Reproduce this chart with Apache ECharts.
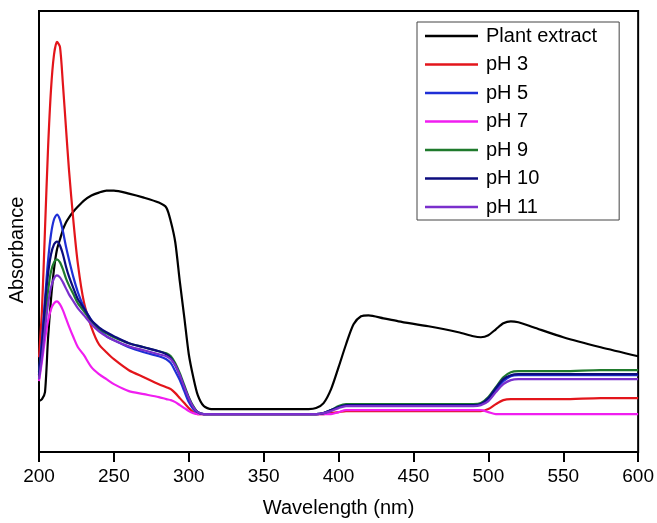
<!DOCTYPE html>
<html>
<head>
<meta charset="utf-8">
<script src="https://cdn.jsdelivr.net/npm/echarts@6/dist/echarts.min.js"></script>
<style>
html,body{margin:0;padding:0;background:#fff;}
#chart{width:657px;height:523px;}
</style>
</head>
<body>
<div id="chart"></div>
<script>
// Wavelength sample points (nm)
const wavelengths = [200,202,204,206,208,210,212,214,216,218,220,223,226,230,235,240,245,250,260,270,280,285,288,291,294,297,300,303,306,310,315,320,340,360,380,385,390,395,400,405,410,415,420,430,440,460,480,490,495,500,505,510,515,520,530,550,575,600];

// Absorbance (arbitrary units) per series
const plantExtract = [0.51,0.53,0.60,1.13,1.53,1.83,2.03,2.13,2.23,2.30,2.35,2.41,2.46,2.52,2.57,2.60,2.62,2.62,2.59,2.55,2.50,2.45,2.31,2.10,1.71,1.35,0.98,0.75,0.57,0.46,0.43,0.43,0.43,0.43,0.43,0.44,0.49,0.63,0.85,1.08,1.28,1.36,1.37,1.34,1.31,1.26,1.20,1.16,1.15,1.17,1.23,1.29,1.31,1.30,1.25,1.15,1.05,0.96];
const pH3 = [0.95,1.43,2.23,3.03,3.63,3.98,4.11,4.06,3.68,3.25,2.83,2.31,1.88,1.50,1.25,1.08,1.00,0.93,0.82,0.75,0.68,0.65,0.63,0.59,0.54,0.49,0.44,0.40,0.38,0.38,0.38,0.38,0.38,0.38,0.38,0.38,0.38,0.39,0.40,0.41,0.41,0.41,0.41,0.41,0.41,0.41,0.41,0.41,0.41,0.43,0.48,0.52,0.53,0.53,0.53,0.53,0.54,0.54];
const pH5 = [0.80,1.13,1.53,1.91,2.18,2.33,2.38,2.33,2.21,2.06,1.93,1.75,1.60,1.45,1.32,1.23,1.16,1.12,1.05,1.00,0.96,0.93,0.89,0.81,0.72,0.61,0.50,0.43,0.39,0.38,0.38,0.38,0.38,0.38,0.38,0.38,0.39,0.42,0.45,0.47,0.47,0.47,0.47,0.47,0.47,0.47,0.47,0.47,0.48,0.53,0.62,0.71,0.76,0.77,0.77,0.77,0.77,0.77];
const pH7 = [0.71,0.91,1.13,1.31,1.43,1.49,1.51,1.48,1.42,1.34,1.26,1.15,1.05,0.97,0.85,0.78,0.73,0.68,0.61,0.58,0.55,0.53,0.52,0.50,0.47,0.44,0.41,0.39,0.38,0.38,0.38,0.38,0.38,0.38,0.38,0.38,0.38,0.38,0.40,0.42,0.42,0.42,0.42,0.42,0.42,0.42,0.42,0.42,0.42,0.40,0.38,0.38,0.38,0.38,0.38,0.38,0.38,0.38];
const pH9 = [0.77,1.03,1.33,1.61,1.81,1.90,1.93,1.90,1.83,1.74,1.67,1.58,1.49,1.41,1.31,1.24,1.19,1.15,1.09,1.05,1.01,0.99,0.96,0.89,0.79,0.67,0.55,0.46,0.40,0.38,0.38,0.38,0.38,0.38,0.38,0.38,0.39,0.42,0.46,0.48,0.48,0.48,0.48,0.48,0.48,0.48,0.48,0.48,0.49,0.55,0.65,0.75,0.80,0.81,0.81,0.81,0.82,0.82];
const pH10 = [0.77,1.08,1.48,1.78,1.98,2.08,2.11,2.07,1.98,1.86,1.76,1.64,1.53,1.44,1.32,1.25,1.20,1.16,1.09,1.05,1.01,0.98,0.94,0.87,0.77,0.65,0.54,0.45,0.40,0.38,0.38,0.38,0.38,0.38,0.38,0.38,0.39,0.42,0.45,0.47,0.47,0.47,0.47,0.47,0.47,0.47,0.47,0.47,0.48,0.54,0.64,0.73,0.77,0.78,0.78,0.78,0.78,0.78];
const pH11 = [0.73,0.95,1.23,1.48,1.65,1.74,1.77,1.75,1.70,1.64,1.58,1.51,1.44,1.37,1.28,1.21,1.16,1.12,1.06,1.02,0.98,0.96,0.93,0.87,0.77,0.65,0.54,0.45,0.40,0.38,0.38,0.38,0.38,0.38,0.38,0.38,0.39,0.41,0.44,0.46,0.46,0.46,0.46,0.46,0.46,0.46,0.46,0.46,0.47,0.51,0.60,0.68,0.72,0.73,0.73,0.73,0.73,0.73];

const seriesNames = ['Plant extract','pH 3','pH 5','pH 7','pH 9','pH 10','pH 11'];
const seriesValues = [plantExtract, pH3, pH5, pH7, pH9, pH10, pH11];
const seriesColors = ['#000000','#e3151b','#1f2fd6','#f01ef0','#1f7a2c','#0c0c7e','#7a2fcc'];

const FONT = '"Liberation Sans", Arial, sans-serif';

const chart = echarts.init(document.getElementById('chart'), null, {renderer:'canvas'});

const series = seriesNames.map((name, i) => ({
  name: name,
  type: 'line',
  data: wavelengths.map((w, j) => [w, seriesValues[i][j]]),
  symbol: 'none',
  smooth: 0.25,
  lineStyle: {color: seriesColors[i], width: 2.2},
  itemStyle: {color: seriesColors[i]},
  z: i === 0 ? 2 : 3,
  animation: false
}));

chart.setOption({
  animation: false,
  backgroundColor: '#ffffff',
  grid: {left: 39, right: 18, top: 11, bottom: 70, show: true, borderColor: '#000', borderWidth: 2},
  xAxis: {
    type: 'value', min: 200, max: 600, interval: 50,
    name: 'Wavelength (nm)', nameLocation: 'middle', nameGap: 46,
    nameTextStyle: {fontSize: 20, color: '#000', fontFamily: FONT},
    axisLine: {show: true, lineStyle: {color: '#000', width: 2}},
    axisTick: {show: true, inside: false, length: 10, lineStyle: {color: '#000', width: 2}},
    axisLabel: {fontSize: 19, color: '#000', fontFamily: FONT, margin: 15},
    splitLine: {show: false}
  },
  yAxis: {
    type: 'value', min: 0, max: 4.42,
    axisLine: {show: true, lineStyle: {color: '#000', width: 2}},
    axisTick: {show: false},
    axisLabel: {show: false},
    splitLine: {show: false}
  },
  legend: {
    orient: 'vertical', left: 417, top: 22,
    padding: [4, 22, 3, 8],
    borderColor: '#444', borderWidth: 1, backgroundColor: '#fff',
    icon: 'rect', itemWidth: 53, itemHeight: 2.5, itemGap: 8.5,
    textStyle: {fontSize: 20, color: '#000', fontFamily: FONT, lineHeight: 20, padding: [0, 0, 0, 3]},
    data: seriesNames
  },
  graphic: [{
    type: 'text', x: 17, y: 250, rotation: Math.PI / 2,
    style: {text: 'Absorbance', fontSize: 20, fontFamily: FONT, fill: '#000', align: 'center', verticalAlign: 'middle'}
  }],
  series: series
});
</script>
</body>
</html>
